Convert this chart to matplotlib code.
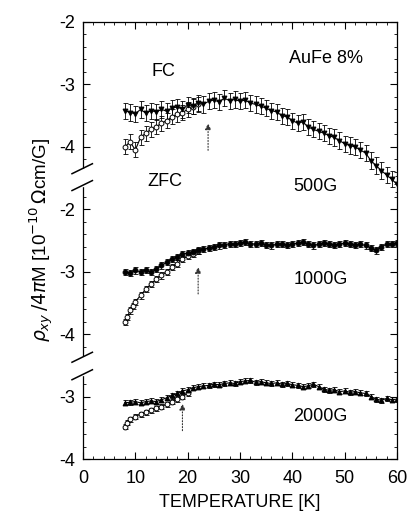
import numpy as np
import matplotlib
matplotlib.use("Agg")
import matplotlib.pyplot as plt
from matplotlib.ticker import FixedLocator, FixedFormatter, MultipleLocator
import matplotlib.transforms as mtransforms

plt.rcParams['font.family'] = ['Liberation Sans', 'DejaVu Sans']

# ---- data ----
# 500 G
t500_fc = np.arange(8, 61)
y500_fc = [-3.42, -3.45, -3.47, -3.40, -3.46, -3.42, -3.44, -3.40, -3.43, -3.38,
           -3.36, -3.40, -3.33, -3.35, -3.30, -3.32, -3.27, -3.25, -3.28, -3.22,
           -3.26, -3.24, -3.27, -3.25, -3.30, -3.32, -3.35, -3.38, -3.42, -3.44,
           -3.50, -3.52, -3.58, -3.62, -3.60, -3.68, -3.72, -3.75, -3.78, -3.82,
           -3.85, -3.90, -3.95, -3.98, -4.00, -4.05, -4.10, -4.22, -4.30, -4.38,
           -4.45, -4.52, -4.60]
t500_zfc = [8, 9, 10, 11, 12, 13, 14, 15, 16, 17, 18, 19, 20, 21, 22]
y500_zfc = [-4.00, -3.92, -4.05, -3.85, -3.78, -3.72, -3.68, -3.62, -3.58, -3.52,
            -3.48, -3.45, -3.40, -3.36, -3.32]

# 1000 G
t1000_fc = np.arange(8, 61)
y1000_fc = [-3.00, -3.02, -2.98, -3.00, -2.97, -3.01, -2.96, -2.90, -2.85, -2.80,
            -2.76, -2.72, -2.70, -2.68, -2.66, -2.64, -2.62, -2.60, -2.58, -2.57,
            -2.55, -2.56, -2.54, -2.53, -2.55, -2.56, -2.54, -2.57, -2.58, -2.56,
            -2.55, -2.57, -2.56, -2.54, -2.53, -2.55, -2.58, -2.56, -2.54, -2.55,
            -2.57, -2.56, -2.54, -2.55, -2.57, -2.56, -2.58, -2.62, -2.66, -2.60,
            -2.56, -2.55, -2.54]
t1000_zfc = [8, 8.5, 9, 9.5, 10, 11, 12, 13, 14, 15, 16, 17, 18, 19, 20, 21, 22]
y1000_zfc = [-3.80, -3.72, -3.62, -3.55, -3.48, -3.38, -3.28, -3.20, -3.12, -3.06,
             -3.00, -2.93, -2.87, -2.80, -2.75, -2.71, -2.67]

# 2000 G
t2000_fc = np.arange(8, 61)
y2000_fc = [-3.10, -3.09, -3.08, -3.10, -3.08, -3.07, -3.08, -3.05, -3.02, -2.98,
            -2.95, -2.91, -2.89, -2.86, -2.84, -2.83, -2.82, -2.80, -2.81, -2.79,
            -2.78, -2.79, -2.76, -2.75, -2.74, -2.77, -2.76, -2.78, -2.79, -2.78,
            -2.80, -2.79, -2.81, -2.82, -2.84, -2.83, -2.80, -2.84, -2.88, -2.90,
            -2.89, -2.92, -2.91, -2.93, -2.92, -2.94, -2.95, -3.00, -3.04, -3.06,
            -3.03, -3.05, -3.04]
t2000_zfc = [8, 8.5, 9, 10, 11, 12, 13, 14, 15, 16, 17, 18, 19, 20]
y2000_zfc = [-3.48, -3.42, -3.36, -3.32, -3.28, -3.25, -3.22, -3.19, -3.16, -3.12,
             -3.08, -3.04, -3.00, -2.95]

# panels are stacked on one axis, shifted by these offsets
offsets = {'500G': 0, '1000G': -3, '2000G': -5}
arrow_t = {'500G': 23.9, '1000G': 22, '2000G': 19}
arrow_y = {'500G': (-4.10, -3.58), '1000G': (-3.40, -2.88), '2000G': (-3.59, -3.07)}

ytick_pos = [-2, -3, -4, -5, -6, -7, -8, -9]
ytick_lab = ['-2', '-3', '-4', '-2', '-3', '-4', '-3', '-4']
xticks = [0, 10, 20, 30, 40, 50, 60]

fig = plt.figure(figsize=(4.10, 5.15), dpi=100)
ax = fig.add_axes([0.2024, 0.1087, 0.766, 0.8486])

def series(t, y, off, marker, filled, err, ms=3.5):
    y = np.asarray(y) + off
    ax.errorbar(t, y, yerr=err, fmt='none', ecolor='black', elinewidth=0.6,
                capsize=1.8, capthick=0.6, zorder=2)
    ax.plot(t, y, '-', color='black', lw=0.8, zorder=3)
    ax.plot(t, y, linestyle='none', marker=marker, ms=ms,
            mfc='black' if filled else 'white', mec='black', mew=0.7, zorder=4)

o = offsets['500G']
series(t500_zfc, y500_zfc, o, 'o', False, 0.12)
series(t500_fc, y500_fc, o, 'v', True, 0.13)
o = offsets['1000G']
series(t1000_zfc, y1000_zfc, o, 'o', False, 0.05)
series(t1000_fc, y1000_fc, o, 'o', True, 0.05)
o = offsets['2000G']
series(t2000_zfc, y2000_zfc, o, 'o', False, 0.04)
series(t2000_fc, y2000_fc, o, '^', True, 0.04)

for k in offsets:
    y0, y1 = arrow_y[k]
    ax.annotate('', xy=(arrow_t[k], y1 + offsets[k]), xytext=(arrow_t[k], y0 + offsets[k]),
                arrowprops=dict(arrowstyle='-|>', color='#333333', lw=0.8,
                                mutation_scale=9, linestyle=':'))

ax.set_xlim(0, 60)
ax.set_ylim(-9, -2)
ax.xaxis.set_major_locator(FixedLocator(xticks))
ax.xaxis.set_minor_locator(MultipleLocator(2))
ax.yaxis.set_major_locator(FixedLocator(ytick_pos))
ax.yaxis.set_major_formatter(FixedFormatter(ytick_lab))
ax.yaxis.set_minor_locator(MultipleLocator(0.2))
ax.tick_params(which='both', direction='in', top=True, right=True, labelsize=13)
ax.tick_params(which='major', length=5, width=0.8)
ax.tick_params(which='minor', length=2.5, width=0.6)
ax.tick_params(axis='x', pad=8)
ax.tick_params(axis='y', pad=6)

# broken left spine
ax.spines['left'].set_visible(False)
breaks = [(-7.65, -7.37), (-4.62, -4.35)]
segs = [(-9, breaks[0][0]), (breaks[0][1], breaks[1][0]), (breaks[1][1], -2)]
for a, b in segs:
    ax.plot([0, 0], [a, b], color='black', lw=0.9, clip_on=False, zorder=5)
trans = mtransforms.blended_transform_factory(ax.transAxes, ax.transData)
for a, b in breaks:
    ax.fill_between([-0.005, 0.02], a, b, color='white', transform=trans,
                    clip_on=False, zorder=6)
    for yb in (a, b):
        ax.plot([-0.035, 0.03], [yb - 0.08, yb + 0.08], color='black', lw=1.1,
                transform=trans, clip_on=False, zorder=7)

for s in ['top', 'right', 'bottom']:
    ax.spines[s].set_linewidth(0.9)

ax.set_xlabel('TEMPERATURE [K]', fontsize=13, labelpad=5)
ax.set_ylabel(r'$\rho_{xy}\,/4\pi$M [10$^{-10}$$\,\Omega$cm/G]', fontsize=13.5, labelpad=2)

kw = dict(fontsize=13, ha='center', va='center')
ax.text(15.3, -2.8, 'FC', **kw)
ax.text(15.6, -4.55, 'ZFC', **kw)
ax.text(46.4, -2.58, 'AuFe 8%', **kw)
ax.text(44.5, -4.63, '500G', **kw)
ax.text(45.5, -6.12, '1000G', **kw)
ax.text(45.3, -8.32, '2000G', **kw)

fig.savefig('out.png', dpi=100)
